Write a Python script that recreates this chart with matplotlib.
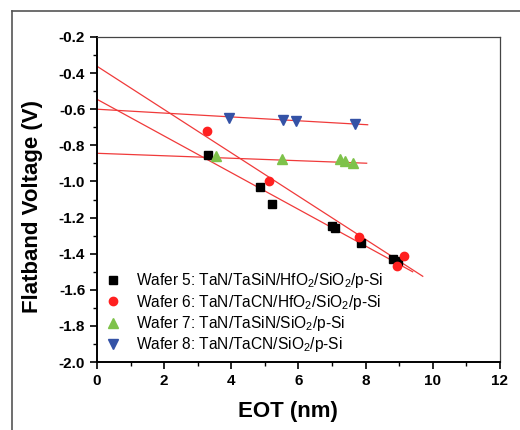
import numpy as np
import matplotlib
matplotlib.use("Agg")
import matplotlib.pyplot as plt
from matplotlib.lines import Line2D
from matplotlib.ticker import MultipleLocator

plt.rcParams['font.family'] = ['Liberation Sans', 'DejaVu Sans']
plt.rcParams['mathtext.default'] = 'regular'

# ---- data ----
w5_x = [3.32, 4.85, 5.22, 6.99, 7.09, 7.86, 8.80, 8.95]
w5_y = [-0.853, -1.029, -1.126, -1.245, -1.256, -1.342, -1.431, -1.439]

w6_x = [3.29, 5.13, 7.80, 8.92, 9.15]
w6_y = [-0.720, -0.997, -1.309, -1.466, -1.411]

w7_x = [3.53, 5.50, 7.23, 7.40, 7.63]
w7_y = [-0.859, -0.876, -0.877, -0.885, -0.899]

w8_x = [3.94, 5.53, 5.92, 7.69]
w8_y = [-0.647, -0.661, -0.667, -0.682]

# linear fit lines (start / end points)
fit5_x, fit5_y = [0.0, 9.40], [-0.545, -1.500]
fit6_x, fit6_y = [0.0, 9.70], [-0.362, -1.525]
fit7_x, fit7_y = [0.0, 8.03], [-0.844, -0.899]
fit8_x, fit8_y = [0.0, 8.06], [-0.600, -0.686]

labels = [
    "Wafer 5: TaN/TaSiN/HfO$_2$/SiO$_2$/p-Si",
    "Wafer 6: TaN/TaCN/HfO$_2$/SiO$_2$/p-Si",
    "Wafer 7: TaN/TaSiN/SiO$_2$/p-Si",
    "Wafer 8: TaN/TaCN/SiO$_2$/p-Si",
]

x_ticks = [0, 2, 4, 6, 8, 10, 12]
y_ticks = [-2.0, -1.8, -1.6, -1.4, -1.2, -1.0, -0.8, -0.6, -0.4, -0.2]

# ---- plot ----
fig = plt.figure(figsize=(5.2, 4.3), dpi=100)
ax = fig.add_axes([0.1865, 0.158, 0.775, 0.756])

line_col = '#f03a3a'
for fx, fy in [(fit5_x, fit5_y), (fit6_x, fit6_y), (fit7_x, fit7_y), (fit8_x, fit8_y)]:
    ax.plot(fx, fy, color=line_col, lw=0.9, zorder=2)

ax.plot(w5_x, w5_y, 's', color='black', ms=5.5, ls='none', label=labels[0], zorder=3)
ax.plot(w6_x, w6_y, 'o', color='#ff2020', ms=6, ls='none', label=labels[1], zorder=3)
ax.plot(w7_x, w7_y, '^', color='#7ec24a', ms=7, ls='none', label=labels[2], zorder=3)
ax.plot(w8_x, w8_y, 'v', color='#3452a6', ms=7, ls='none', label=labels[3], zorder=3)

ax.set_xlim(0, 12)
ax.set_ylim(-2.0, -0.2)
ax.set_xticks(x_ticks)
ax.set_yticks(y_ticks)
ax.set_yticklabels([f"{v:.1f}" for v in y_ticks])
ax.xaxis.set_minor_locator(MultipleLocator(1))
ax.yaxis.set_minor_locator(MultipleLocator(0.1))

ax.tick_params(which='major', direction='out', length=5, width=1.2,
               labelsize=11, top=False, right=False)
ax.tick_params(which='minor', direction='out', length=3, width=1.0,
               top=False, right=False)
for lab in ax.get_xticklabels() + ax.get_yticklabels():
    lab.set_fontweight('bold')

for side in ['left', 'bottom']:
    ax.spines[side].set_linewidth(1.4)
for side in ['top', 'right']:
    ax.spines[side].set_linewidth(0.9)
    ax.spines[side].set_color('#444444')

ax.set_xlabel("EOT (nm)", fontsize=16, fontweight='bold')
ax.set_ylabel("Flatband Voltage (V)", fontsize=16, fontweight='bold')
ax.xaxis.set_label_coords(0.473, -0.12)
ax.yaxis.set_label_coords(-0.135, 0.48)

ax.legend(loc='lower left', bbox_to_anchor=(0.0, 0.0), frameon=False,
          fontsize=11.2, handlelength=1.0, handletextpad=1.0,
          labelspacing=0.15, borderaxespad=0.1, borderpad=0.4,
          markerscale=1.0)

# outer frame of the figure panel
fig.add_artist(Line2D([0.024, 0.024], [0.0, 0.975], transform=fig.transFigure,
                      color='#555555', lw=1.2))
fig.add_artist(Line2D([0.024, 1.0], [0.975, 0.975], transform=fig.transFigure,
                      color='#555555', lw=1.2))

fig.savefig("out.png", dpi=100)
